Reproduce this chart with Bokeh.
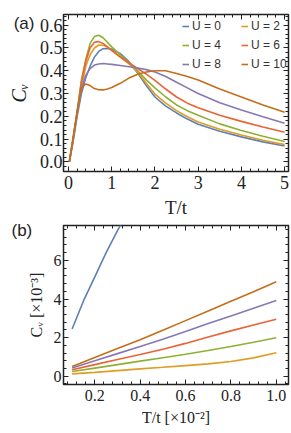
from bokeh.plotting import figure
from bokeh.models import (LinearAxis, Range1d, Legend, LegendItem, Title,
                          FixedTicker)
from bokeh.core.properties import value
from bokeh.layouts import column
from bokeh.embed import file_html
from bokeh.resources import INLINE

# ---------------- data (a) ----------------
T_a = [0.02, 0.1, 0.2, 0.3, 0.4, 0.5, 0.6, 0.7, 0.8, 0.9, 1.0, 1.2, 1.4, 1.6,
       1.8, 2.0, 2.25, 2.5, 2.75, 3.0, 3.5, 4.0, 4.5, 5.0]
cv_U0 = [0.0, 0.08, 0.20, 0.30, 0.37, 0.42, 0.46, 0.485, 0.497, 0.498, 0.495, 0.475,
         0.44, 0.39, 0.335, 0.285, 0.245, 0.215, 0.188, 0.165, 0.135, 0.11, 0.088, 0.07]
cv_U2 = [0.0, 0.09, 0.21, 0.33, 0.42, 0.47, 0.50, 0.513, 0.512, 0.505, 0.49, 0.46,
         0.43, 0.395, 0.345, 0.298, 0.258, 0.225, 0.198, 0.175, 0.143, 0.118, 0.095, 0.076]
cv_U4 = [0.0, 0.09, 0.22, 0.36, 0.45, 0.52, 0.55, 0.556, 0.545, 0.525, 0.505, 0.47,
         0.435, 0.40, 0.36, 0.325, 0.285, 0.25, 0.225, 0.205, 0.167, 0.138, 0.113, 0.09]
cv_U6 = [0.0, 0.09, 0.22, 0.35, 0.44, 0.50, 0.525, 0.528, 0.52, 0.505, 0.49, 0.46,
         0.435, 0.41, 0.385, 0.358, 0.32, 0.285, 0.258, 0.238, 0.205, 0.178, 0.153, 0.13]
cv_U8 = [0.0, 0.09, 0.21, 0.32, 0.38, 0.41, 0.425, 0.43, 0.432, 0.43, 0.428, 0.423,
         0.418, 0.412, 0.405, 0.395, 0.375, 0.35, 0.325, 0.30, 0.26, 0.228, 0.198, 0.17]
cv_U10 = [0.0, 0.10, 0.22, 0.325, 0.342, 0.335, 0.322, 0.317, 0.316, 0.32, 0.327,
          0.345, 0.368, 0.385, 0.395, 0.40, 0.40, 0.388, 0.375, 0.36, 0.32, 0.285, 0.25, 0.218]
labels_a = ["U = 0", "U = 2", "U = 4", "U = 6", "U = 8", "U = 10"]
xticks_a = [0, 1, 2, 3, 4, 5]
yticks_a = [0.0, 0.1, 0.2, 0.3, 0.4, 0.5, 0.6]

# ---------------- data (b) ----------------
T_b0 = [0.1, 0.15, 0.2, 0.25, 0.3, 0.35]
cvb_U0 = [2.45, 3.9, 5.15, 6.4, 7.55, 8.6]
T_b = [0.1, 0.2, 0.3, 0.4, 0.5, 0.6, 0.7, 0.8, 0.9, 1.0]
cvb_U2 = [0.12, 0.2, 0.29, 0.38, 0.46, 0.55, 0.64, 0.76, 0.95, 1.22]
cvb_U4 = [0.24, 0.42, 0.6, 0.78, 0.96, 1.14, 1.33, 1.54, 1.76, 1.99]
cvb_U6 = [0.33, 0.6, 0.87, 1.12, 1.4, 1.7, 2.03, 2.35, 2.65, 2.95]
cvb_U8 = [0.42, 0.8, 1.17, 1.54, 1.92, 2.32, 2.73, 3.12, 3.52, 3.92]
cvb_U10 = [0.5, 0.97, 1.43, 1.89, 2.38, 2.88, 3.38, 3.88, 4.38, 4.89]
xticks_b = [0.2, 0.4, 0.6, 0.8, 1.0]
yticks_b = [0, 2, 4, 6]

colors = ["#5E81B5", "#E19C24", "#8FB032", "#EB6235", "#8778B3", "#C56E1A"]

SERIF = "Liberation Serif"
SANS = "Liberation Sans"
INK = "#222222"


def style_axis(ax, ticks, minor, hide_labels, size):
    ax.ticker = FixedTicker(ticks=ticks, minor_ticks=minor)
    ax.axis_line_color = None
    ax.major_tick_in = 5
    ax.major_tick_out = 0
    ax.minor_tick_in = 3
    ax.minor_tick_out = 0
    ax.major_tick_line_color = INK
    ax.minor_tick_line_color = INK
    ax.major_label_text_font = SERIF
    ax.major_label_text_font_size = size
    ax.major_label_text_color = INK
    ax.axis_label_text_font = SERIF
    ax.axis_label_text_font_style = "normal"
    ax.axis_label_text_color = INK
    if hide_labels:
        ax.major_label_overrides = {t: "" for t in ticks}
        ax.major_label_standoff = 0
        ax.axis_label_standoff = 0


def style(p, xticks, yticks, xminor, yminor, size):
    p.outline_line_color = INK
    p.outline_line_width = 1.5
    p.grid.visible = False
    xb = p.below[0]
    yl = p.left[0]
    xt = LinearAxis()
    yr = LinearAxis()
    p.add_layout(xt, "above")
    p.add_layout(yr, "right")
    style_axis(xb, xticks, xminor, False, size)
    style_axis(xt, xticks, xminor, True, size)
    style_axis(yl, yticks, yminor, False, size)
    style_axis(yr, yticks, yminor, True, size)
    return xb, yl


# ---------------- figure (a) ----------------
pa = figure(width=290, height=221, output_backend="svg", toolbar_location=None,
            x_range=Range1d(-0.115, 5.09), y_range=Range1d(-0.042, 0.647),
            min_border_left=62, min_border_right=2, min_border_top=14,
            min_border_bottom=50)
series_a = [cv_U0, cv_U2, cv_U4, cv_U6, cv_U8, cv_U10]
renderers = []
for ys, c in zip(series_a, colors):
    r = pa.line(T_a, ys, line_color=c, line_width=1.6)
    renderers.append(r)

xminor_a = [round(i * 0.2, 1) for i in range(0, 26)]
yminor_a = [round(i * 0.02, 2) for i in range(-2, 33)]
xa, ya = style(pa, xticks_a, yticks_a, xminor_a, yminor_a, "18px")
ya.major_label_overrides = {v: f"{v:.1f}" for v in yticks_a}
xa.major_label_standoff = 4
xa.axis_label = "T/t"
xa.axis_label_text_font_size = "19px"
xa.axis_label_standoff = 5
ya.major_label_standoff = 1
ya.axis_label = "Cᵥ"
ya.axis_label_text_font_style = "italic"
ya.axis_label_text_font_size = "20px"
ya.axis_label_standoff = 7

order = [0, 2, 4, 1, 3, 5]
items = [LegendItem(label=labels_a[i], renderers=[renderers[i]]) for i in order]
legend = Legend(items=items, ncols=2, location=(119, 100),
                label_text_font=SANS, label_text_font_size="12px",
                label_text_color="#333333",
                glyph_width=7, glyph_height=14, label_height=14,
                label_width=44, label_standoff=3, spacing=5, padding=2,
                margin=0, background_fill_alpha=0, border_line_color=None)
pa.add_layout(legend, "center")

pa.text(x=[-1.267], y=[0.651], text=["(a)"], level="overlay",
        text_font=value(SANS), text_font_size="17px", text_color=INK,
        text_baseline="top", text_align="left")

# ---------------- figure (b) ----------------
pb = figure(width=290, height=211, output_backend="svg", toolbar_location=None,
            x_range=Range1d(0.062, 1.054), y_range=Range1d(-0.43, 7.81),
            min_border_left=63, min_border_right=2, min_border_top=4,
            min_border_bottom=48)
pb.line(T_b0, cvb_U0, line_color=colors[0], line_width=1.6)
for ys, c in zip([cvb_U2, cvb_U4, cvb_U6, cvb_U8, cvb_U10], colors[1:]):
    pb.line(T_b, ys, line_color=c, line_width=1.6)

xminor_b = [round(i * 0.04, 2) for i in range(0, 27)]
yminor_b = [round(i * 0.4, 1) for i in range(-1, 20)]
xb, yb = style(pb, xticks_b, yticks_b, xminor_b, yminor_b, "16px")
xb.major_label_overrides = {v: f"{v:.1f}" for v in xticks_b}
xb.major_label_standoff = 5
xb.axis_label = "T/t [×10⁻²]"
xb.axis_label_text_font_size = "16px"
xb.axis_label_standoff = 5
yb.major_label_standoff = 2
yb.axis_label = "Cᵥ [×10⁻³]"
yb.axis_label_text_font_size = "16px"
yb.axis_label_standoff = 6

pb.add_layout(Title(text="(b)", align="left", offset=-52, standoff=-28,
                    vertical_align="bottom", text_font=SANS,
                    text_font_size="17px", text_font_style="normal",
                    text_color=INK), "above")

layout = column(pa, pb, spacing=0)
open("out.html", "w").write(file_html(layout, INLINE))
